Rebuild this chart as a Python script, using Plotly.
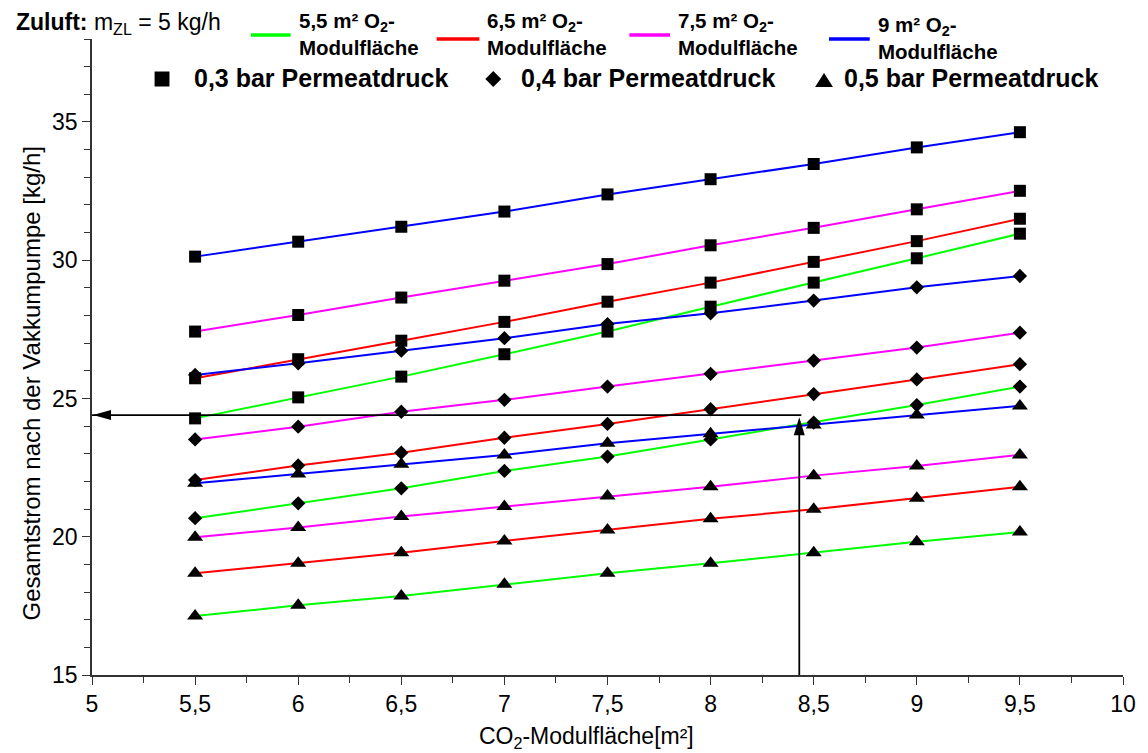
import plotly.graph_objects as go

# CO2 module area [m²]
co2_area = [5.5, 6, 6.5, 7, 7.5, 8, 8.5, 9, 9.5]

# Total flow after the vacuum pump [kg/h], permeate pressure 0,3 bar
p03_o2_55 = [24.28, 25.04, 25.79, 26.60, 27.42, 28.32, 29.19, 30.07, 30.96]
p03_o2_65 = [25.73, 26.42, 27.09, 27.77, 28.50, 29.19, 29.94, 30.69, 31.50]
p03_o2_75 = [27.42, 28.02, 28.65, 29.26, 29.86, 30.54, 31.17, 31.84, 32.51]
p03_o2_90 = [30.13, 30.67, 31.21, 31.76, 32.38, 32.93, 33.48, 34.08, 34.63]

# permeate pressure 0,4 bar
p04_o2_55 = [20.67, 21.21, 21.75, 22.38, 22.90, 23.52, 24.13, 24.76, 25.43]
p04_o2_65 = [22.05, 22.58, 23.04, 23.58, 24.08, 24.61, 25.16, 25.69, 26.24]
p04_o2_75 = [23.52, 23.98, 24.52, 24.95, 25.43, 25.89, 26.37, 26.84, 27.38]
p04_o2_90 = [25.85, 26.27, 26.73, 27.18, 27.69, 28.08, 28.54, 29.02, 29.43]

# permeate pressure 0,5 bar
p05_o2_55 = [17.13, 17.52, 17.86, 18.28, 18.68, 19.04, 19.42, 19.82, 20.17]
p05_o2_65 = [18.68, 19.04, 19.42, 19.85, 20.24, 20.65, 20.99, 21.39, 21.81]
p05_o2_75 = [19.98, 20.33, 20.73, 21.09, 21.47, 21.81, 22.21, 22.56, 22.96]
p05_o2_90 = [21.93, 22.27, 22.62, 22.96, 23.38, 23.72, 24.04, 24.40, 24.73]

o2_labels = ["5,5", "6,5", "7,5", "9"]
pressure_labels = ["0,3", "0,4", "0,5"]

# operating point
pointer_area = 8.44
pointer_flow = 24.4

FONT = "Liberation Sans, Arial, sans-serif"
O2_COLORS = ["#00FF00", "#FF0000", "#FF00FF", "#0000FF"]
SYMBOLS = ["square", "diamond", "triangle-up"]
SIZES = [12, 11, 14]

series = [
    [p03_o2_55, p03_o2_65, p03_o2_75, p03_o2_90],
    [p04_o2_55, p04_o2_65, p04_o2_75, p04_o2_90],
    [p05_o2_55, p05_o2_65, p05_o2_75, p05_o2_90],
]

W, H = 1148, 753
L, R, T, B = 92, 18, 39, 78
PW, PH = W - L - R, H - T - B


def px(x):
    return (x - L) / PW


def py(y):
    return (H - B - y) / PH


fig = go.Figure()

# lines first, markers on top
for p_idx, group in enumerate(series):
    for o_idx, vals in enumerate(group):
        fig.add_trace(go.Scatter(
            x=co2_area, y=vals, mode="lines",
            line=dict(color=O2_COLORS[o_idx], width=2),
            showlegend=False, hoverinfo="skip"))
for p_idx, group in enumerate(series):
    for o_idx, vals in enumerate(group):
        fig.add_trace(go.Scatter(
            x=co2_area, y=vals, mode="markers",
            marker=dict(symbol=SYMBOLS[p_idx], size=SIZES[p_idx],
                        color="black", line=dict(width=0)),
            name=f"{pressure_labels[p_idx]} bar / {o2_labels[o_idx]} m²",
            showlegend=False))

shapes = []
annotations = []

# pointer lines with arrow heads
shapes.append(dict(type="line", xref="x", yref="y", x0=pointer_area, x1=5,
                   y0=pointer_flow, y1=pointer_flow,
                   line=dict(color="black", width=1.8)))
shapes.append(dict(type="line", xref="x", yref="y", x0=pointer_area - 0.01,
                   x1=pointer_area - 0.01, y0=15, y1=pointer_flow - 0.3,
                   line=dict(color="black", width=1.8)))
shapes.append(dict(type="path", xref="x", yref="y", xsizemode="pixel",
                   ysizemode="pixel", xanchor=5, yanchor=pointer_flow,
                   path="M1,0 L19,5 L19,-5 Z", fillcolor="black",
                   line=dict(width=0)))
shapes.append(dict(type="path", xref="x", yref="y", xsizemode="pixel",
                   ysizemode="pixel", xanchor=pointer_area - 0.01,
                   yanchor=pointer_flow - 0.08,
                   path="M0,0 L-5.5,-18 L5.5,-18 Z", fillcolor="black",
                   line=dict(width=0)))

# legend: O2 module areas (line colours)
o2_legend = [  # (line x0, line x1, line y, text x, text y-shift)
    (252, 292, 35, 298, 0),
    (439, 482, 39, 488, 0),
    (633, 674, 35, 680, 0),
    (834, 875, 39, 881, 4),
]
for (x0, x1, ly, tx, dy), lab, col in zip(o2_legend, o2_labels, O2_COLORS):
    shapes.append(dict(type="line", xref="paper", yref="paper",
                       x0=px(x0), x1=px(x1), y0=py(ly), y1=py(ly),
                       line=dict(color=col, width=3.5)))
    annotations.append(dict(
        xref="paper", yref="paper", x=px(tx), y=py(7 + dy),
        xanchor="left", yanchor="top", align="left", showarrow=False,
        text=f"<b>{lab} m² O<sub>2</sub>-<br>Modulfläche</b>",
        font=dict(family=FONT, size=20.5, color="black")))

# legend: permeate pressures (marker symbols)
sq_c, di_c, tr_c = (162.5, 79), (496, 79), (829, 80)
shapes.append(dict(type="rect", xref="paper", yref="paper",
                   x0=px(sq_c[0] - 7.5), x1=px(sq_c[0] + 7.5),
                   y0=py(sq_c[1] + 7.5), y1=py(sq_c[1] - 7.5),
                   fillcolor="black", line=dict(width=0)))
shapes.append(dict(type="path", xref="paper", yref="paper",
                   path=(f"M{px(di_c[0] - 8)},{py(di_c[1])} L{px(di_c[0])},{py(di_c[1] - 8)} "
                         f"L{px(di_c[0] + 8)},{py(di_c[1])} L{px(di_c[0])},{py(di_c[1] + 8)} Z"),
                   fillcolor="black", line=dict(width=0)))
shapes.append(dict(type="path", xref="paper", yref="paper",
                   path=(f"M{px(tr_c[0] - 9)},{py(tr_c[1] + 7)} L{px(tr_c[0] + 9)},{py(tr_c[1] + 7)} "
                         f"L{px(tr_c[0])},{py(tr_c[1] - 7)} Z"),
                   fillcolor="black", line=dict(width=0)))
for tx, lab in zip([193, 522, 847], pressure_labels):
    annotations.append(dict(
        xref="paper", yref="paper", x=px(tx), y=py(78), xanchor="left",
        yanchor="middle", showarrow=False,
        text=f"<b>{lab} bar Permeatdruck</b>",
        font=dict(family=FONT, size=25, color="black")))

# feed note
annotations.append(dict(
    xref="paper", yref="paper", x=px(13), y=py(23), xanchor="left",
    yanchor="middle", showarrow=False,
    text="<b>Zuluft:</b> m<sub>ZL</sub> = 5 kg/h",
    font=dict(family=FONT, size=23, color="black")))

# axis titles
annotations.append(dict(
    xref="paper", yref="paper", x=px(590), y=py(737), xanchor="center",
    yanchor="middle", showarrow=False,
    text="CO<sub>2</sub>-Modulfläche[m²]",
    font=dict(family=FONT, size=23, color="black")))
annotations.append(dict(
    xref="paper", yref="paper", x=px(31), y=py(383), xanchor="center",
    yanchor="middle", showarrow=False, textangle=-90,
    text="Gesamtstrom nach der Vakkumpumpe [kg/h]",
    font=dict(family=FONT, size=24, color="black")))

axis_common = dict(
    showgrid=False, zeroline=False, showline=True, linecolor="#333",
    linewidth=1.5, ticks="outside", ticklen=8, tickwidth=1.3,
    tickcolor="#333", tickfont=dict(family=FONT, size=23, color="black"),
)

fig.update_layout(
    width=W, height=H,
    margin=dict(l=L, r=R, t=T, b=B),
    paper_bgcolor="white", plot_bgcolor="white",
    separators=", ",
    showlegend=False,
    shapes=shapes,
    annotations=annotations,
    xaxis=dict(range=[5, 10], tickmode="linear", tick0=5, dtick=0.5,
               minor=dict(dtick=0.25, ticks="outside", ticklen=6,
                          tickwidth=1.3, tickcolor="#333"),
               **axis_common),
    yaxis=dict(range=[15, 38], tickmode="linear", tick0=15, dtick=5,
               minor=dict(dtick=1, ticks="outside", ticklen=6,
                          tickwidth=1.3, tickcolor="#333"),
               **axis_common),
)

fig.write_html("out.html")
